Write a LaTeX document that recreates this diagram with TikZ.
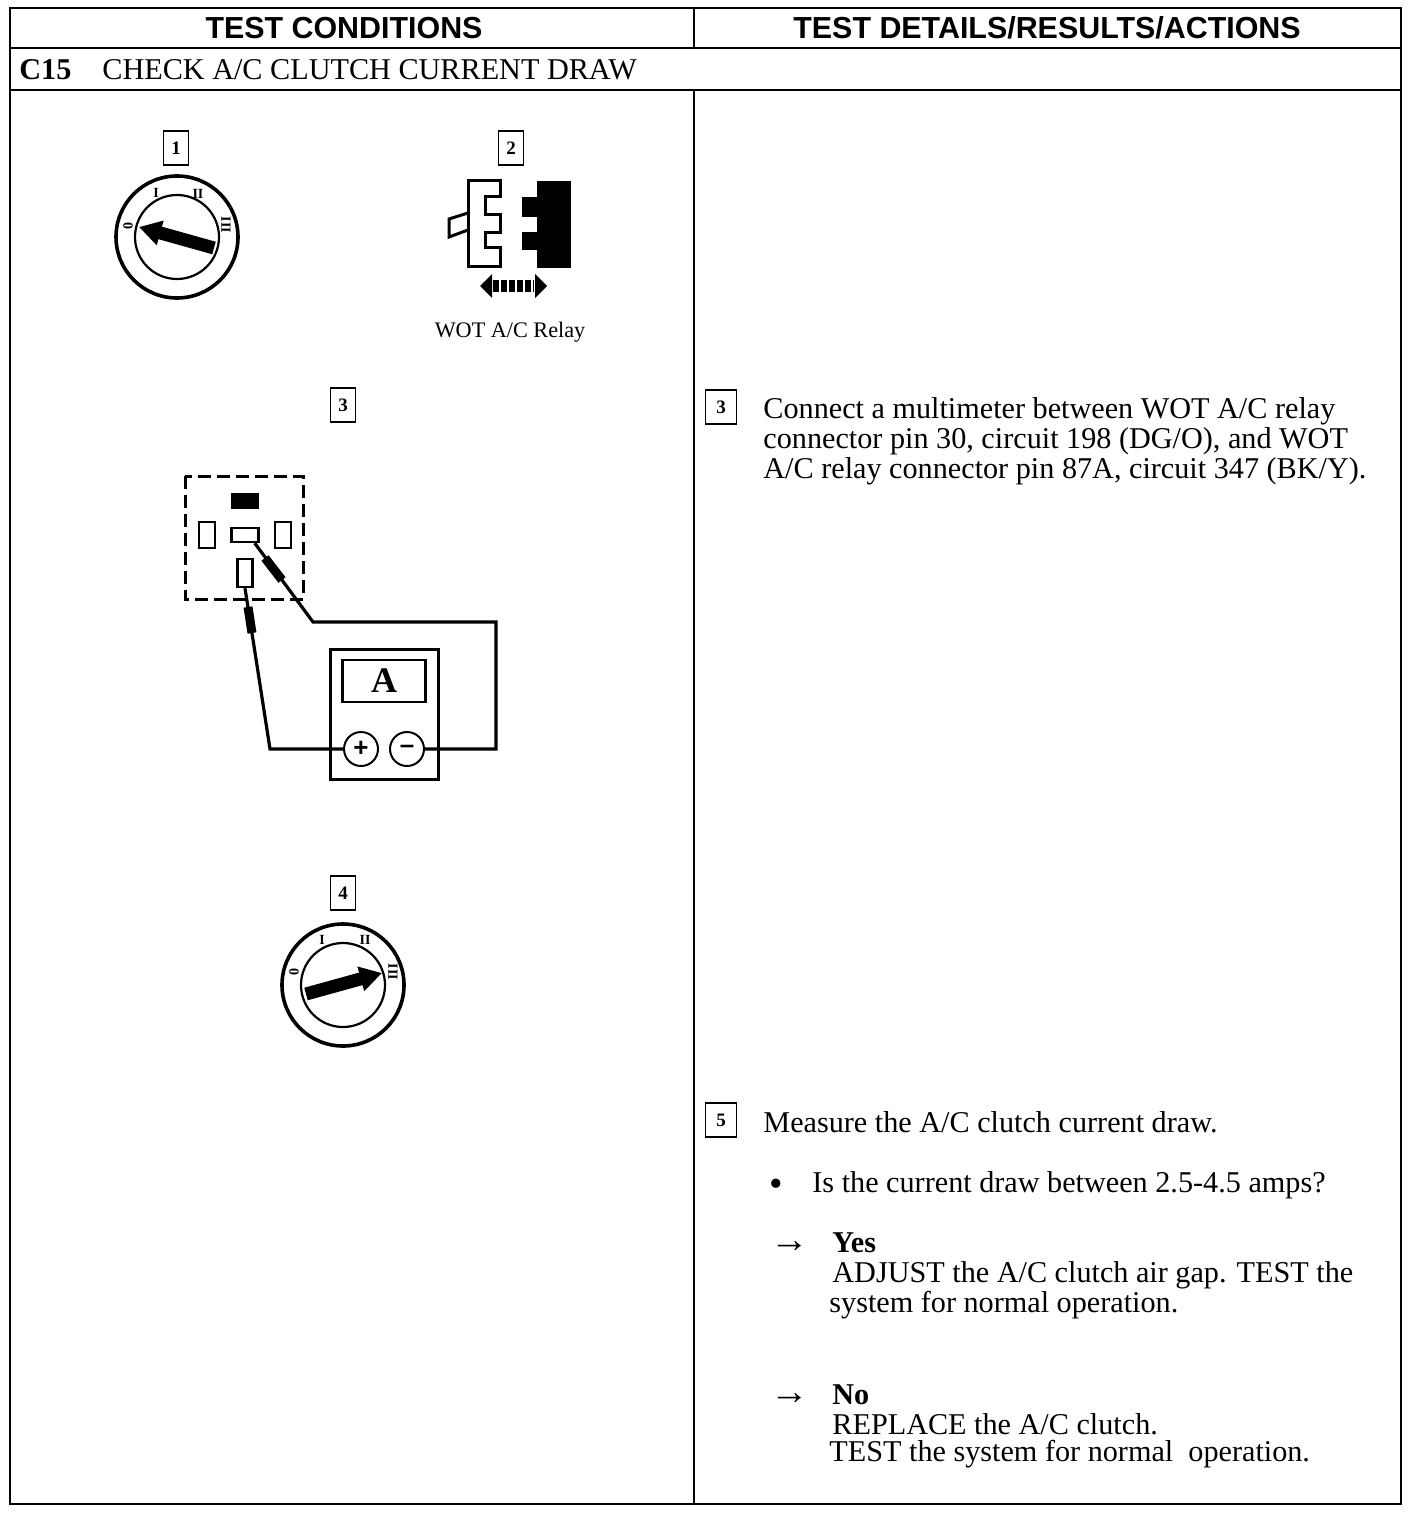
\documentclass[tikz,border=0pt]{standalone}
\usepackage{fontspec}
\setmainfont{Liberation Serif}
\setsansfont{Liberation Sans}
\usetikzlibrary{arrows.meta, positioning}

\begin{document}
\begin{tikzpicture}[
    x=0.5pt, y=-0.5pt,
    frame/.style={line width=1.3pt},
    headtxt/.style={font=\sffamily\bfseries\fontsize{15.2}{15.2}\selectfont, inner sep=0pt},
    bodytxt/.style={font=\fontsize{15.1}{15}\selectfont, inner sep=0pt, anchor=base west},
    boldtxt/.style={bodytxt, font=\bfseries\fontsize{15.1}{15}\selectfont},
    arrowtxt/.style={bodytxt, font=\fontsize{19.3}{15}\selectfont},
    numbox/.style={draw, line width=0.8pt, minimum width=12.5pt, minimum height=17pt, inner sep=0pt, font=\bfseries\fontsize{9.5}{9.5}\selectfont},
    sidebox/.style={numbox, minimum width=15.5pt},
    pinbox/.style={draw, line width=1.2pt, inner sep=0pt},
    wire/.style={line width=1.6pt},
    probe/.style={line width=4.5pt},
    dial/.style={draw, circle, inner sep=0pt, line width=1.8pt},
    hub/.style={draw, circle, inner sep=0pt, line width=1.1pt, minimum size=42pt},
    pointer/.style={line width=6.5pt, -{Triangle[length=11pt, width=12pt]}},
    dialmark/.style={inner sep=0pt, font=\bfseries\fontsize{7}{7}\selectfont},
    polar/.style={draw, circle, line width=1pt, minimum size=17pt, inner sep=0pt, font=\sffamily\bfseries\fontsize{13}{13}\selectfont}
]
    \useasboundingbox (0,0) rectangle (1408,1514);

    % table
    \draw[frame] (10,8) rectangle (1401,1504);
    \draw[frame] (10,48) -- (1401,48);
    \draw[frame] (10,90) -- (1401,90);
    \draw[frame] (694,8) -- (694,48);
    \draw[frame] (694,90) -- (694,1504);

    \node[headtxt] (hleft) at (344,28) {TEST CONDITIONS};
    \node[headtxt] (hright) at (1047,28) {TEST DETAILS/RESULTS/ACTIONS};
    \node[boldtxt] (code) at (19,80) {C15};
    \node[bodytxt] (title) at (102,80) {CHECK A/C CLUTCH CURRENT DRAW};

    % key off
    \node[numbox] (n1) at (176,148) {1};
    \node[dial, minimum size=61pt] (key1) at (177,237) {};
    \node[hub] (hub1) at (177,237) {};
    \coordinate (tail1) at (214,248);
    \coordinate (tip1) at (139,227);
    \draw[pointer] (tail1) -- (tip1);
    \node[dialmark, rotate=90] (m1a) at (128,226) {0};
    \node[dialmark] (m1b) at (156,193) {I};
    \node[dialmark] (m1c) at (198,194) {II};
    \node[dialmark, rotate=-90] (m1d) at (226,225) {III};

    % relay connector
    \node[numbox] (n2) at (511,148) {2};
    \draw[line width=1.5pt] (468,181) -- (500,181) -- (500,197) -- (485,197) -- (485,215) -- (500,215) -- (500,233)
        -- (485,233) -- (485,248) -- (500,248) -- (500,266) -- (468,266) -- cycle;
    \draw[line width=1.5pt] (468,213) -- (449,219) -- (449,237) -- (468,230);
    \fill (537,181) rectangle (571,268);
    \fill (522,197) rectangle (537,217);
    \fill (522,232) rectangle (537,250);
    \fill (480,286) -- (492,274) -- (492,298) -- cycle;
    \fill (547,286) -- (535,274) -- (535,298) -- cycle;
    \draw[line width=6pt, dash pattern=on 3pt off 1pt] (493,286) -- (534,286);
    \node[inner sep=0pt, font=\fontsize{11.1}{11.1}\selectfont] (relay) at (510,332) {WOT A/C Relay};

    % meter hookup
    \node[numbox] (n3) at (343,405) {3};
    \draw[line width=1.5pt, dash pattern=on 6.5pt off 3pt] (185,476) rectangle (303,599);
    \fill (231,493) rectangle (259,509);
    \node[pinbox, minimum width=8pt, minimum height=13pt] (p86) at (207,535) {};
    \node[pinbox, minimum width=13.5pt, minimum height=7pt] (p30) at (245,535) {};
    \node[pinbox, minimum width=8pt, minimum height=13pt] (p85) at (283,535) {};
    \node[pinbox, minimum width=7.5pt, minimum height=14pt] (p87) at (245,573) {};
    \node[draw, line width=1.5pt, minimum width=54pt, minimum height=65pt, inner sep=0pt] (meter) at (384.5,714.5) {};
    \node[draw, line width=1.2pt, minimum width=41.5pt, minimum height=21pt, inner sep=0pt, font=\bfseries\fontsize{18}{18}\selectfont] (readout) at (384,681) {A};
    \node[polar] (plus) at (361,749) {+};
    \node[polar] (minus) at (407,749) {--};
    \coordinate (bendl) at (270,749);
    \coordinate (bendr) at (496,749);
    \coordinate (bendt) at (496,622);
    \coordinate (bendp) at (313,622);
    \draw[wire] (plus.west) -- (bendl) -- (p87.south);
    \draw[wire] (minus.east) -- (bendr) -- (bendt) -- (bendp) -- (p30.-40);
    \draw[probe] (248,607) -- (252,633);
    \draw[probe] (265,558) -- (282,580);

    % key run
    \node[numbox] (n4) at (343,893) {4};
    \node[dial, minimum size=61pt] (key4) at (343,985) {};
    \node[hub] (hub4) at (343,985) {};
    \coordinate (tail4) at (306,994);
    \coordinate (tip4) at (382,973);
    \draw[pointer] (tail4) -- (tip4);
    \node[dialmark, rotate=90] (m4a) at (294,972) {0};
    \node[dialmark] (m4b) at (322,940) {I};
    \node[dialmark] (m4c) at (365,940) {II};
    \node[dialmark, rotate=-90] (m4d) at (393,972) {III};

    % right column
    \node[sidebox] (s3) at (721,407) {3};
    \node[bodytxt] (t3a) at (763,418) {Connect a multimeter between WOT A/C relay};
    \node[bodytxt] (t3b) at (763,448) {connector pin 30, circuit 198 (DG/O), and WOT};
    \node[bodytxt] (t3c) at (763,478) {A/C relay connector pin 87A, circuit 347 (BK/Y).};

    \node[sidebox] (s5) at (721,1120) {5};
    \node[bodytxt] (t5) at (763,1132) {Measure the A/C clutch current draw.};
    \node[arrowtxt] (bul) at (769,1196) {•};
    \node[bodytxt] (q5) at (812,1192) {Is the current draw between 2.5-4.5 amps?};
    \node[arrowtxt] (ayes) at (770,1252) {→};
    \node[boldtxt] (yes) at (832,1252) {Yes};
    \node[bodytxt] (y1) at (832,1282) {ADJUST the A/C clutch air gap. TEST the};
    \node[bodytxt] (y2) at (829,1312) {system for normal operation.};
    \node[arrowtxt] (ano) at (770,1404) {→};
    \node[boldtxt] (no) at (832,1404) {No};
    \node[bodytxt] (n1a) at (832,1434) {REPLACE the A/C clutch.};
    \node[bodytxt] (n1b) at (829,1461) {TEST the system for normal\ \ operation.};
\end{tikzpicture}
\end{document}
